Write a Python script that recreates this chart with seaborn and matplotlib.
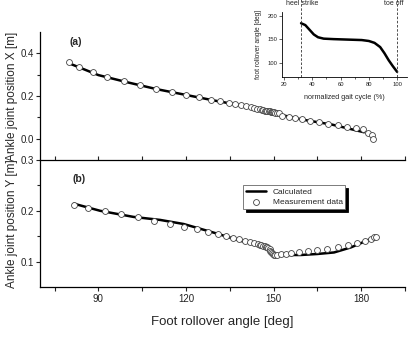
import numpy as np
import pandas as pd
import matplotlib
matplotlib.use("Agg")
import matplotlib.pyplot as plt
import seaborn as sns
from matplotlib.ticker import MultipleLocator

# ---------------- data ----------------
# panel (a): ankle joint position X vs foot rollover angle
meas_a_angle = [79.9, 83.5, 88.1, 93.1, 98.6, 104.3, 109.8, 115.2, 120.1, 124.6, 128.4,
                131.8, 134.7, 136.9, 138.9, 140.6, 142.1, 143.2, 144.4,
                145.3, 145.9, 146.5, 147.0, 147.5, 147.9, 148.3, 148.7, 149.0, 149.3,
                149.6, 149.9, 150.2, 150.6, 151.1, 151.7,
                153.0, 155.3, 157.2, 159.8, 162.5, 165.6, 168.7, 171.9, 175.1, 178.1,
                180.6, 182.4, 183.7, 184.1]
meas_a_x = [0.359, 0.334, 0.311, 0.288, 0.269, 0.250, 0.234, 0.218, 0.206, 0.193, 0.183,
            0.175, 0.168, 0.161, 0.157, 0.152, 0.147, 0.144, 0.139,
            0.137, 0.135, 0.134, 0.132, 0.131, 0.130, 0.129, 0.128, 0.127, 0.126,
            0.125, 0.124, 0.123, 0.122, 0.120, 0.118,
            0.108, 0.100, 0.096, 0.090, 0.084, 0.076, 0.070, 0.063, 0.057, 0.051,
            0.043, 0.027, 0.016, 0.000]
calc_a_angle = [80, 90, 100, 110, 120, 130, 140, 145, 148, 150, 152, 160, 170, 181]
calc_a_x = [0.353, 0.298, 0.264, 0.232, 0.205, 0.178, 0.153, 0.138, 0.128, 0.120, 0.113,
            0.089, 0.066, 0.030]

# panel (b): ankle joint position Y vs foot rollover angle
meas_b_angle = [81.6, 86.6, 92.1, 97.9, 103.7, 109.2, 114.6, 119.3, 123.8, 127.4, 130.9,
                133.6, 136.0, 138.1, 140.2, 141.9, 143.2, 144.6,
                145.2, 145.8, 146.4, 146.9, 147.4, 147.8, 148.2, 148.6, 148.9, 149.2,
                149.5, 149.8, 150.1, 150.5,
                151.3, 152.6, 154.1, 156.1, 158.7, 161.7, 165.0, 168.4, 172.1, 175.5,
                178.7, 181.4, 183.3, 184.5, 185.0]
meas_b_y = [0.211, 0.205, 0.199, 0.193, 0.187, 0.180, 0.175, 0.169, 0.164, 0.159, 0.154,
            0.150, 0.147, 0.144, 0.141, 0.139, 0.136, 0.134,
            0.133, 0.132, 0.131, 0.130, 0.129, 0.128, 0.126, 0.124, 0.121, 0.118,
            0.116, 0.114, 0.113, 0.113,
            0.113, 0.114, 0.115, 0.116, 0.118, 0.120, 0.122, 0.124, 0.128, 0.133,
            0.137, 0.141, 0.144, 0.148, 0.149]
calc_b_angle = [81.6, 90.6, 102, 111.2, 119.2, 129.5, 138.7, 146.7, 148.4, 149.5, 150.7,
                155, 159.3, 165, 170.7, 176.5, 182.2, 184.5]
calc_b_y = [0.214, 0.200, 0.188, 0.182, 0.174, 0.157, 0.141, 0.129, 0.125, 0.116, 0.113,
            0.113, 0.113, 0.115, 0.118, 0.128, 0.142, 0.148]

# inset: foot rollover angle vs normalized gait cycle
gait_pct = [32, 35, 38, 41, 44, 48, 55, 65, 75, 80, 84, 88, 91, 94, 97, 100]
gait_angle = [184, 180, 170, 160, 154, 151, 150, 149, 148, 146, 142, 133, 120, 105, 92, 80]
heel_strike_pct = 32
toe_off_pct = 100

# ---------------- style ----------------
sns.set_theme(style="ticks")
plt.rcParams['font.family'] = ['Liberation Sans', 'DejaVu Sans']
plt.rcParams['xtick.color'] = '#222222'
plt.rcParams['ytick.color'] = '#222222'

W, H = 412, 339
fig = plt.figure(figsize=(W / 100, H / 100), dpi=100)

def fr(x0, y0, x1, y1):
    return [x0 / W, 1 - y1 / H, (x1 - x0) / W, (y1 - y0) / H]

ax_a = fig.add_axes(fr(40, 32, 405, 160))
ax_b = fig.add_axes(fr(40, 160, 405, 287))

tick_fs = 7
mk_kw = dict(marker='o', s=18, facecolor='white', edgecolor='#444444', linewidth=0.6, zorder=3)

# panel (a)
sns.lineplot(x=calc_a_angle, y=calc_a_x, ax=ax_a, color='black', linewidth=1.8, zorder=2)
sns.scatterplot(x=meas_a_angle, y=meas_a_x, ax=ax_a, **mk_kw)
ax_a.set_xlim(70, 195)
ax_a.set_ylim(-0.1, 0.5)
for s in ['top', 'right', 'bottom']:
    ax_a.spines[s].set_visible(False)
ax_a.spines['left'].set_linewidth(0.9)
ax_a.spines['left'].set_color('black')
ax_a.set_xticks([])
ax_a.set_yticks([0.0, 0.2, 0.4], labels=['0.0', '0.2', '0.4'])
ax_a.set_yticks([0.1, 0.3], minor=True)
ax_a.tick_params(axis='y', which='major', direction='out', length=3, width=0.8, labelsize=tick_fs, pad=1.5)
ax_a.tick_params(axis='y', which='minor', direction='out', length=2, width=0.8)
ax_a.set_ylabel('Ankle joint position X [m]', fontsize=8.5, labelpad=2)
ax_a.text(0.082, 0.92, '(a)', transform=ax_a.transAxes, fontsize=7.5, fontweight='bold', va='center')

# panel (b)
sns.lineplot(x=calc_b_angle, y=calc_b_y, ax=ax_b, color='black', linewidth=1.8, zorder=2,
             label='Calculated')
sns.scatterplot(x=meas_b_angle, y=meas_b_y, ax=ax_b, label='Measurement data', **mk_kw)
ax_b.set_xlim(70, 195)
ax_b.set_ylim(0.05, 0.3)
ax_b.spines['right'].set_visible(False)
for s in ['top', 'left', 'bottom']:
    ax_b.spines[s].set_linewidth(0.9)
    ax_b.spines[s].set_color('black')
ax_b.set_xticks([90, 120, 150, 180], labels=['90', '120', '150', '180'])
ax_b.set_xticks([75, 105, 135, 165, 195], minor=True)
ax_b.set_yticks([0.1, 0.2, 0.3], labels=['0.1', '0.2', '0.3'])
ax_b.set_yticks([0.15, 0.25], minor=True)
ax_b.tick_params(axis='x', which='both', top=True, direction='out', length=3, width=0.8,
                 labelsize=tick_fs, pad=2)
ax_b.tick_params(axis='y', which='major', direction='out', length=3, width=0.8, labelsize=tick_fs, pad=1.5)
ax_b.tick_params(axis='y', which='minor', direction='out', length=2, width=0.8)
ax_b.set_xlabel('Foot rollover angle [deg]', fontsize=9.5, labelpad=9)
ax_b.set_ylabel('Ankle joint position Y [m]', fontsize=8.5, labelpad=2)
ax_b.text(0.09, 0.85, '(b)', transform=ax_b.transAxes, fontsize=7.5, fontweight='bold', va='center')
leg = ax_b.legend(loc='upper left', bbox_to_anchor=(0.556, 0.80), fontsize=6.0, frameon=True,
                  fancybox=False, shadow={'color': 'black', 'alpha': 1.0}, borderpad=0.35,
                  handlelength=2.4, handletextpad=0.8, labelspacing=0.25, borderaxespad=0)
leg.get_frame().set_edgecolor('#666666')
leg.get_frame().set_linewidth(0.6)

# inset
ax_i = fig.add_axes(fr(282, 12, 407, 77))
sns.lineplot(x=gait_pct, y=gait_angle, ax=ax_i, color='black', linewidth=1.8)
ax_i.set_xlim(18.5, 107)
ax_i.set_ylim(69, 208)
ax_i.patch.set_alpha(0)
for s in ['top', 'right']:
    ax_i.spines[s].set_visible(False)
for s in ['left', 'bottom']:
    ax_i.spines[s].set_linewidth(0.6)
    ax_i.spines[s].set_color('black')
ax_i.set_xticks([20, 40, 60, 80, 100])
ax_i.set_xticks([30, 50, 70, 90], minor=True)
ax_i.set_yticks([100, 150, 200])
ax_i.tick_params(axis='both', which='major', direction='out', length=2, width=0.5, labelsize=4.2, pad=1.5)
ax_i.tick_params(axis='both', which='minor', direction='out', length=1.3, width=0.5)
ax_i.set_xlabel('normalized gait cycle (%)', fontsize=5.2, labelpad=5)
ax_i.set_ylabel('foot rollover angle [deg]', fontsize=4.8, labelpad=4)
for xv, xt, lab in [(heel_strike_pct, heel_strike_pct + 0.5, 'heel strike'),
                    (toe_off_pct, toe_off_pct - 2.5, 'toe off')]:
    ax_i.axvline(xv, ymin=0, ymax=1.2, color='#333333', linestyle=(0, (3, 2)), linewidth=0.6,
                 clip_on=False)
    ax_i.text(xt, 1.13, lab, transform=ax_i.get_xaxis_transform(), ha='center', va='center',
              fontsize=5.0)

fig.savefig('out.png', dpi=100)
